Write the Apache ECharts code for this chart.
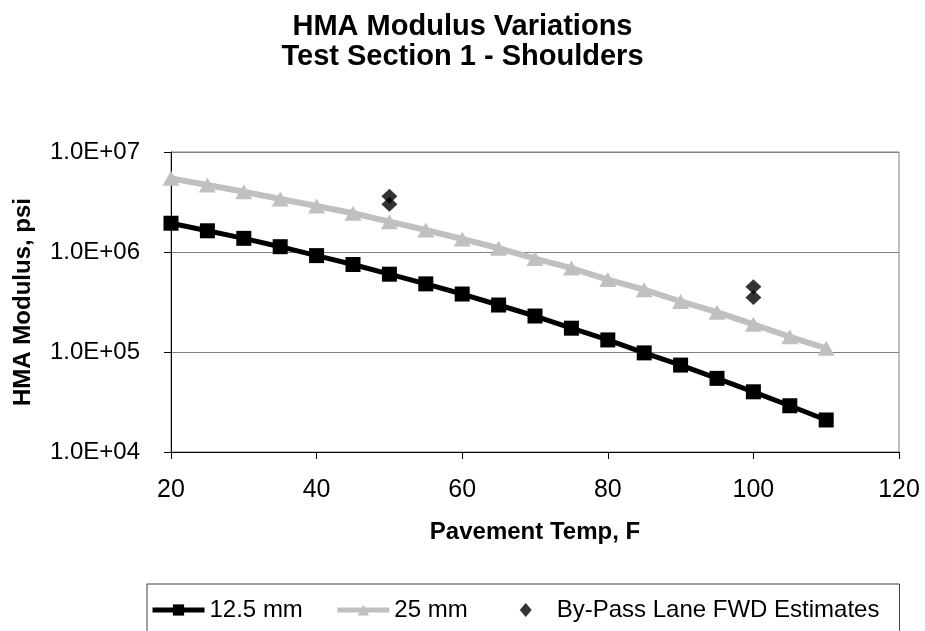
<!DOCTYPE html>
<html>
<head>
<meta charset="utf-8">
<script src="https://cdn.jsdelivr.net/npm/echarts@6/dist/echarts.min.js"></script>
<style>
html,body{margin:0;padding:0;background:#fff;}
#chart{width:925px;height:631px;}
</style>
</head>
<body>
<div id="chart"></div>
<script>
var temps = [20,25,30,35,40,45,50,55,60,65,70,75,80,85,90,95,100,105,110];
var mod125 = [1.94e6,1.63e6,1.37e6,1.13e6,9.2e5,7.5e5,6.0e5,4.8e5,3.8e5,2.95e5,2.29e5,1.73e5,1.32e5,9.8e4,7.4e4,5.45e4,4.0e4,2.9e4,2.09e4];
var mod25 = [5.45e6,4.68e6,4.0e6,3.39e6,2.88e6,2.44e6,2.01e6,1.66e6,1.35e6,1.09e6,8.6e5,6.9e5,5.3e5,4.2e5,3.2e5,2.5e5,1.89e5,1.42e5,1.09e5];
var fwdTemps = [50,50,100,100];
var fwdMod = [3.6e6,3.0e6,4.5e5,3.5e5];
var seriesNames = ['12.5 mm','25 mm','By-Pass Lane FWD Estimates'];
var titleLines = ['HMA Modulus Variations','Test Section 1 - Shoulders'];
var xTitle = 'Pavement Temp, F';
var yTitle = 'HMA Modulus, psi';

var FONT = "'Liberation Sans', Arial, sans-serif";
function pairs(xs, ys){ return xs.map(function(x,i){ return [x, ys[i]]; }); }

var chart = echarts.init(document.getElementById('chart'), null, {renderer:'canvas'});
chart.setOption({
  animation:false,
  backgroundColor:'#fff',
  title:{
    text: titleLines.join('\n'),
    left:'center', top:7,
    textStyle:{fontFamily:FONT, fontSize:29, fontWeight:'bold', color:'#000', lineHeight:30}
  },
  grid:{left:171, right:26, top:152, bottom:179, show:true, borderColor:'#808080', borderWidth:1, backgroundColor:'transparent'},
  xAxis:{
    type:'value', min:20, max:120, interval:20,
    name:xTitle, nameLocation:'middle', nameGap:68,
    nameTextStyle:{fontFamily:FONT, fontSize:24, fontWeight:'bold', color:'#000'},
    axisLine:{show:true, onZero:false, lineStyle:{color:'#000', width:1}},
    axisTick:{show:true, inside:false, length:7, lineStyle:{color:'#000'}},
    axisLabel:{margin:26, fontFamily:FONT, fontSize:25, color:'#000'},
    splitLine:{show:false}
  },
  yAxis:{
    type:'log', logBase:10, min:1e4, max:1e7,
    name:yTitle, nameLocation:'middle', nameGap:136, nameRotate:90,
    nameTextStyle:{fontFamily:FONT, fontSize:24, fontWeight:'bold', color:'#000'},
    axisLine:{show:true, onZero:false, lineStyle:{color:'#000', width:1}},
    axisTick:{show:true, inside:false, length:7, lineStyle:{color:'#000'}},
    axisLabel:{margin:31, fontFamily:FONT, fontSize:24, color:'#000',
      formatter:function(v){ var e=Math.round(Math.log10(v)); return '1.0E+' + (e<10?'0':'') + e; }},
    splitLine:{show:true, lineStyle:{color:'#808080', width:1}}
  },
  legend:{
    left:147, top:584,
    padding:[14, 20, 30, 3],
    borderColor:'#404040', borderWidth:1, backgroundColor:'#fff',
    itemWidth:52, itemHeight:14, itemGap:32,
    symbolKeepAspect:true,
    textStyle:{fontFamily:FONT, fontSize:24, color:'#000'},
    data:[
      {name:seriesNames[0], lineStyle:{width:5}},
      {name:seriesNames[1], lineStyle:{width:5}},
      {name:seriesNames[2], icon:'path://M0,0L0.01,0L0,0.01Z M52,14L51.99,14L52,13.99Z M26,0L32,7L26,14L20,7Z'}
    ]
  },
  series:[
    {
      name:seriesNames[1], type:'line', data:pairs(temps, mod25),
      symbol:'triangle', symbolSize:[17,15],
      lineStyle:{color:'#C0C0C0', width:6},
      itemStyle:{color:'#C0C0C0'}, z:2
    },
    {
      name:seriesNames[0], type:'line', data:pairs(temps, mod125),
      symbol:'rect', symbolSize:15,
      lineStyle:{color:'#000', width:5},
      itemStyle:{color:'#000'}, z:3
    },
    {
      name:seriesNames[2], type:'scatter', data:pairs(fwdTemps, fwdMod),
      symbol:'diamond', symbolSize:[16,15],
      itemStyle:{color:'#000'}, z:4
    }
  ]
});
</script>
</body>
</html>
